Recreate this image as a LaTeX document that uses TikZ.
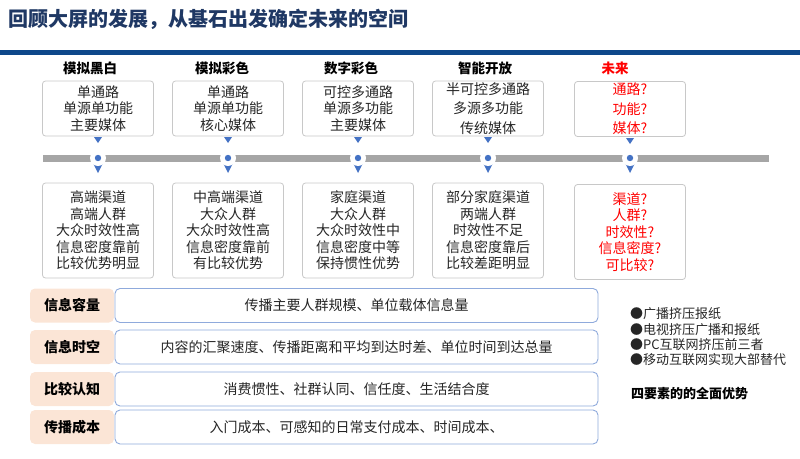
\documentclass[tikz,border=0pt]{standalone}
\usepackage{fontspec}
\setmainfont{Noto Sans CJK SC}
\usepackage{tikz}
\definecolor{navy}{RGB}{31,56,100}
\definecolor{rulecol}{RGB}{14,72,138}
\definecolor{pincol}{RGB}{68,114,196}
\definecolor{barcol}{RGB}{166,166,166}
\definecolor{framecol}{RGB}{200,200,200}
\definecolor{peach}{RGB}{251,229,214}
\definecolor{rowcol}{RGB}{143,170,220}
\definecolor{ink}{RGB}{38,38,38}
\definecolor{futred}{RGB}{255,0,0}

\begin{document}
\begin{tikzpicture}[x=1pt,y=-1pt,
  era/.style={font=\fontsize{13.5}{16}\selectfont\bfseries,inner sep=0pt},
  card/.style={draw=framecol,line width=0.8pt,rounded corners=3pt,fill=white,
    minimum width=111pt,align=center,text=ink,inner sep=0pt,
    font=\fontsize{14}{16.5}\selectfont},
  topcard/.style={card,minimum height=55pt},
  botcard/.style={card,minimum height=95pt},
  tag/.style={fill=peach,rounded corners=5pt,minimum width=84pt,minimum height=34pt,
    inner sep=0pt,font=\fontsize{14}{16}\selectfont\bfseries},
  row/.style={draw=rowcol,line width=0.9pt,rounded corners=5pt,fill=white,
    minimum width=483pt,minimum height=34pt,inner sep=0pt,text=ink,
    font=\fontsize{14}{16}\selectfont}]
\useasboundingbox (0,0) rectangle (800,458);

% title and rule
\node[anchor=west,text=navy,inner sep=0pt,font=\fontsize{20}{24}\selectfont\bfseries] (title) at (8,19) {回顾大屏的发展，从基石出发确定未来的空间};
\fill[rulecol] (0,49.5) rectangle (800,54.5);

% eras
\node[era] (h1) at (90,68) {模拟黑白};
\node[era] (h2) at (222,68) {模拟彩色};
\node[era] (h3) at (351,68) {数字彩色};
\node[era] (h4) at (485,68) {智能开放};
\node[era,text=futred] (h5) at (615,68) {未来};

\node[topcard] (t1) at (98,108.5) {单通路\\单源单功能\\主要媒体};
\node[topcard] (t2) at (228,108.5) {单通路\\单源单功能\\核心媒体};
\node[topcard] (t3) at (358,108.5) {可控多通路\\单源多功能\\主要媒体};
\node[topcard,font=\fontsize{14}{19.5}\selectfont] (t4) at (488,108.5) {半可控多通路\\多源多功能\\传统媒体};
\node[topcard,text=futred,font=\fontsize{14}{19.5}\selectfont] (t5) at (630,109) {通路?\\功能?\\媒体?};

% timeline
\draw[barcol,line width=6.5pt] (43,158.5) -- (769,158.5);

\fill[pincol] (94,137) -- (102,137) -- (98,143) -- cycle;
\fill[pincol] (93.5,164) -- (102.5,164) -- (98,173) -- cycle;
\fill[white] (98,158) circle (8);
\fill[pincol] (98,158) circle (3.2);

\fill[pincol] (224,137) -- (232,137) -- (228,143) -- cycle;
\fill[pincol] (223.5,164) -- (232.5,164) -- (228,173) -- cycle;
\fill[white] (228,158) circle (8);
\fill[pincol] (228,158) circle (3.2);

\fill[pincol] (354,137) -- (362,137) -- (358,143) -- cycle;
\fill[pincol] (353.5,164) -- (362.5,164) -- (358,173) -- cycle;
\fill[white] (358,158) circle (8);
\fill[pincol] (358,158) circle (3.2);

\fill[pincol] (484,137) -- (492,137) -- (488,143) -- cycle;
\fill[pincol] (483.5,164) -- (492.5,164) -- (488,173) -- cycle;
\fill[white] (488,158) circle (8);
\fill[pincol] (488,158) circle (3.2);

\fill[pincol] (626,138) -- (634,138) -- (630,144) -- cycle;
\fill[pincol] (625.5,164) -- (634.5,164) -- (630,173) -- cycle;
\fill[white] (630,158) circle (8);
\fill[pincol] (630,158) circle (3.2);

\node[botcard] (b1) at (98,230.5) {高端渠道\\高端人群\\大众时效性高\\信息密度靠前\\比较优势明显};
\node[botcard] (b2) at (228,230.5) {中高端渠道\\大众人群\\大众时效性高\\信息密度靠前\\有比较优势};
\node[botcard] (b3) at (358,230.5) {家庭渠道\\大众人群\\大众时效性中\\信息密度中等\\保持惯性优势};
\node[botcard] (b4) at (488,230.5) {部分家庭渠道\\两端人群\\时效性不足\\信息密度靠后\\比较差距明显};
\node[botcard,text=futred] (b5) at (630,232) {渠道?\\人群?\\时效性?\\信息密度?\\可比较?};

% four factors
\node[tag] (k1) at (72,305.5) {信息容量};
\node[tag] (k2) at (72,347) {信息时空};
\node[tag] (k3) at (72,389) {比较认知};
\node[tag] (k4) at (72,427) {传播成本};

\node[row] (r1) at (356.5,305.5) {传播主要人群规模、单位载体信息量};
\node[row] (r2) at (356.5,347) {内容的汇聚速度、传播距离和平均到达时差、单位时间到达总量};
\node[row] (r3) at (356.5,389) {消费惯性、社群认同、信任度、生活结合度};
\node[row] (r4) at (356.5,427) {入门成本、可感知的日常支付成本、时间成本、};

\node[anchor=west,align=left,inner sep=0pt,text=ink,font=\fontsize{13}{15.3}\selectfont] (trend) at (630,337) {●广播挤压报纸\\●电视挤压广播和报纸\\●PC互联网挤压前三者\\●移动互联网实现大部替代};
\node[anchor=west,inner sep=0pt,font=\fontsize{13}{16}\selectfont\bfseries] (sum) at (631,394) {四要素的的全面优势};
\end{tikzpicture}
\end{document}
